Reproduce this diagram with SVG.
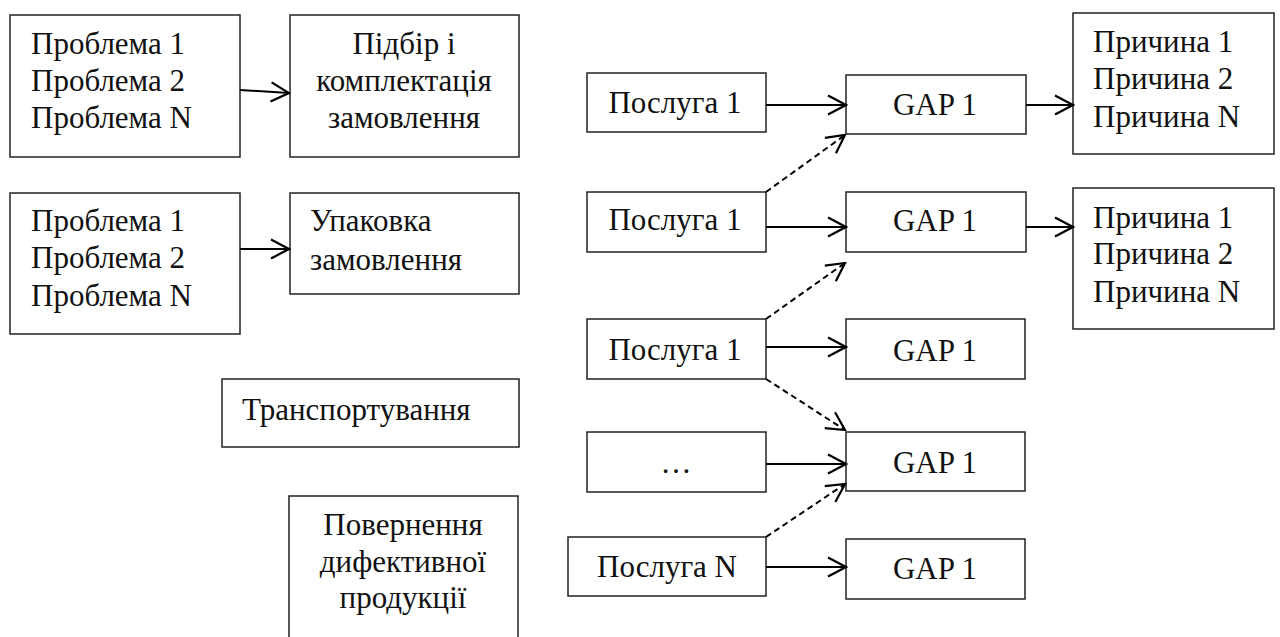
<svg xmlns="http://www.w3.org/2000/svg" width="1280" height="637" viewBox="0 0 1280 637">
<style>
.box{fill:#fff;stroke:#222;stroke-width:1.5}
text{font-family:'Liberation Serif','DejaVu Serif','Times New Roman',serif;font-size:31px;fill:#111}
.c{text-anchor:middle}
.arr{stroke:#000;stroke-width:2;fill:none;marker-end:url(#ah)}
.dash{stroke-dasharray:6 4}
</style>
<defs>
<marker id="ah" markerUnits="userSpaceOnUse" viewBox="0 0 22 22" refX="20" refY="11" markerWidth="22" markerHeight="22" orient="auto">
<path d="M2,1.5 L20,11 L2,20.5" fill="none" stroke="#000" stroke-width="2.2"/>
</marker>
</defs>
<rect width="1280" height="637" fill="#fff"/>
<g id="n-problems-1">
<rect class="box" x="10" y="15" width="230" height="142"/>
<text x="31" y="54">Проблема 1</text>
<text x="31" y="91">Проблема 2</text>
<text x="31" y="128">Проблема N</text>
</g>
<g id="n-pidbir">
<rect class="box" x="290" y="15" width="229" height="142"/>
<text class="c" x="404" y="54">Підбір і</text>
<text class="c" x="404" y="91">комплектація</text>
<text class="c" x="404" y="128">замовлення</text>
</g>
<g id="n-problems-2">
<rect class="box" x="10" y="193" width="230" height="141"/>
<text x="31" y="231">Проблема 1</text>
<text x="31" y="268">Проблема 2</text>
<text x="31" y="306">Проблема N</text>
</g>
<g id="n-upakovka">
<rect class="box" x="290" y="193" width="229" height="101"/>
<text x="310" y="231">Упаковка</text>
<text x="310" y="270">замовлення</text>
</g>
<g id="n-transport">
<rect class="box" x="222" y="379" width="297" height="68"/>
<text x="242" y="420">Транспортування</text>
</g>
<g id="n-povernennia">
<rect class="box" x="289" y="496" width="229" height="160"/>
<text class="c" x="403" y="535">Повернення</text>
<text class="c" x="403" y="572">дифективної</text>
<text class="c" x="403" y="608">продукції</text>
</g>
<g id="n-posluga-1">
<rect class="box" x="587" y="73" width="179" height="59"/>
<text class="c" x="675" y="113">Послуга 1</text>
</g>
<g id="n-posluga-2">
<rect class="box" x="587" y="192" width="179" height="60"/>
<text class="c" x="675" y="230">Послуга 1</text>
</g>
<g id="n-posluga-3">
<rect class="box" x="587" y="319" width="179" height="60"/>
<text class="c" x="675" y="360">Послуга 1</text>
</g>
<g id="n-posluga-dots">
<rect class="box" x="587" y="432" width="179" height="60"/>
<text class="c" x="676" y="473">…</text>
</g>
<g id="n-posluga-n">
<rect class="box" x="568" y="537" width="198" height="59"/>
<text class="c" x="667" y="577">Послуга N</text>
</g>
<g id="n-gap-1">
<rect class="box" x="846" y="75" width="180" height="59"/>
<text class="c" x="935" y="115">GAP 1</text>
</g>
<g id="n-gap-2">
<rect class="box" x="846" y="192" width="180" height="60"/>
<text class="c" x="935" y="231">GAP 1</text>
</g>
<g id="n-gap-3">
<rect class="box" x="846" y="319" width="179" height="60"/>
<text class="c" x="935" y="361">GAP 1</text>
</g>
<g id="n-gap-4">
<rect class="box" x="846" y="432" width="179" height="59"/>
<text class="c" x="935" y="473">GAP 1</text>
</g>
<g id="n-gap-5">
<rect class="box" x="846" y="539" width="179" height="60"/>
<text class="c" x="935" y="579">GAP 1</text>
</g>
<g id="n-prychyna-1">
<rect class="box" x="1073" y="13" width="201" height="141"/>
<text x="1093" y="52">Причина 1</text>
<text x="1093" y="89">Причина 2</text>
<text x="1093" y="127">Причина N</text>
</g>
<g id="n-prychyna-2">
<rect class="box" x="1073" y="188" width="201" height="141"/>
<text x="1093" y="228">Причина 1</text>
<text x="1093" y="264">Причина 2</text>
<text x="1093" y="302">Причина N</text>
</g>
<g id="connectors">
<line class="arr" x1="240" y1="90" x2="289" y2="93"/>
<line class="arr" x1="240" y1="249" x2="289" y2="249"/>
<line class="arr" x1="766" y1="105" x2="846" y2="105"/>
<line class="arr" x1="1026" y1="105" x2="1073" y2="105"/>
<line class="arr" x1="766" y1="227" x2="846" y2="227"/>
<line class="arr" x1="1026" y1="227" x2="1073" y2="227"/>
<line class="arr" x1="766" y1="347" x2="846" y2="347"/>
<line class="arr" x1="766" y1="464" x2="846" y2="464"/>
<line class="arr" x1="766" y1="567" x2="846" y2="567"/>
<line class="arr dash" x1="766" y1="192" x2="845" y2="135"/>
<line class="arr dash" x1="766" y1="319" x2="845" y2="263"/>
<line class="arr dash" x1="766" y1="379" x2="845" y2="430"/>
<line class="arr dash" x1="766" y1="537" x2="845" y2="484"/>
</g>
</svg>
